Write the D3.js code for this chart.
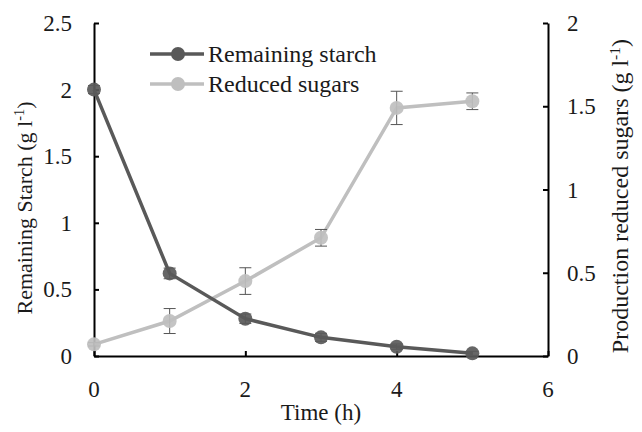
<!DOCTYPE html>
<html>
<head>
<meta charset="utf-8">
<script src="https://cdn.jsdelivr.net/npm/d3@7"></script>
<style>
body { margin: 0; background: #fff; }
text { font-family: "Liberation Serif", "Times New Roman", serif; fill: #1a1a1a; }
</style>
</head>
<body>
<div id="chart"></div>
<script>
// data
var time = [0, 1, 2, 3, 4, 5];
var starch = [2.0, 0.62, 0.28, 0.14, 0.07, 0.02];
var starchErr = [0.03, 0.04, 0.035, 0.03, 0.02, 0.015];
var sugars = [0.07, 0.21, 0.45, 0.71, 1.49, 1.53];
var sugarsErr = [0.01, 0.075, 0.08, 0.05, 0.1, 0.05];
var xTicks = [0, 2, 4, 6];
var leftTicks = [0, 0.5, 1, 1.5, 2, 2.5];
var rightTicks = [0, 0.5, 1, 1.5, 2];
var seriesNames = ["Remaining starch", "Reduced sugars"];

var W = 642, H = 432;
var mLeft = 94, mRight = 548, mTop = 23, mBottom = 356;

var x = d3.scaleLinear().domain([0, 6]).range([mLeft, mRight]);
var yL = d3.scaleLinear().domain([0, 2.5]).range([mBottom, mTop]);
var yR = d3.scaleLinear().domain([0, 2]).range([mBottom, mTop]);

var svg = d3.select("#chart").append("svg")
	.attr("width", W)
	.attr("height", H);

function fmt(d) { return String(d); }

// axes, ticks inward
var gx = svg.append("g").attr("transform", "translate(0," + mBottom + ")")
	.call(d3.axisTop(x).tickValues(xTicks).tickSize(5).tickSizeOuter(0).tickFormat(""));
var gl = svg.append("g").attr("transform", "translate(" + mLeft + ",0)")
	.call(d3.axisRight(yL).tickValues(leftTicks).tickSize(5).tickSizeOuter(0).tickFormat(""));
var gr = svg.append("g").attr("transform", "translate(" + mRight + ",0)")
	.call(d3.axisLeft(yR).tickValues(rightTicks).tickSize(5).tickSizeOuter(0).tickFormat(""));
[gx, gl, gr].forEach(function(g) {
	g.select(".domain").attr("stroke", "#000").attr("stroke-width", 2);
	g.selectAll(".tick line").attr("stroke", "#000").attr("stroke-width", 2);
});

// tick labels
svg.selectAll(".xl").data(xTicks).enter().append("text")
	.attr("x", function(d) { return x(d); })
	.attr("y", 397)
	.attr("text-anchor", "middle")
	.attr("font-size", 23)
	.text(fmt);
svg.selectAll(".yl").data(leftTicks).enter().append("text")
	.attr("x", 72)
	.attr("y", function(d) { return yL(d) + 8; })
	.attr("text-anchor", "end")
	.attr("font-size", 23)
	.text(fmt);
svg.selectAll(".yr").data(rightTicks).enter().append("text")
	.attr("x", 567)
	.attr("y", function(d) { return yR(d) + 8; })
	.attr("text-anchor", "start")
	.attr("font-size", 23)
	.text(fmt);

// axis titles
svg.append("text")
	.attr("x", 321).attr("y", 420)
	.attr("text-anchor", "middle")
	.attr("font-size", 23)
	.text("Time (h)");

function yTitle(bx, cy, size, label) {
	var t = svg.append("text")
		.attr("transform", "translate(" + bx + "," + cy + ") rotate(-90)")
		.attr("text-anchor", "middle")
		.attr("font-size", size);
	t.append("tspan").text(label + " (g l");
	t.append("tspan").attr("dy", -size * 0.35).attr("font-size", size * 0.65).text("-1");
	t.append("tspan").attr("dy", size * 0.35).text(")");
}
yTitle(32, 208, 22, "Remaining Starch");
yTitle(628, 196, 24, "Production reduced sugars");

var series = [
	{ name: seriesNames[0], vals: starch, err: starchErr, y: yL, color: "#595959" },
	{ name: seriesNames[1], vals: sugars, err: sugarsErr, y: yR, color: "#bfbfbf" }
];

// draw sugars first, starch on top
[series[1], series[0]].forEach(function(s) {
	var pts = time.map(function(t, i) { return { t: t, v: s.vals[i], e: s.err[i] }; });
	var line = d3.line().x(function(d) { return x(d.t); }).y(function(d) { return s.y(d.v); });
	svg.append("path").datum(pts)
		.attr("d", line)
		.attr("fill", "none")
		.attr("stroke", s.color)
		.attr("stroke-width", 3.5);

	var eb = svg.append("g");
	pts.forEach(function(d) {
		var y1 = s.y(d.v - d.e), y2 = s.y(d.v + d.e), cx = x(d.t);
		eb.append("line").attr("x1", cx).attr("x2", cx).attr("y1", y1).attr("y2", y2)
			.attr("stroke", "#555").attr("stroke-width", 1);
		eb.append("line").attr("x1", cx - 6).attr("x2", cx + 6).attr("y1", y1).attr("y2", y1)
			.attr("stroke", "#555").attr("stroke-width", 1);
		eb.append("line").attr("x1", cx - 6).attr("x2", cx + 6).attr("y1", y2).attr("y2", y2)
			.attr("stroke", "#555").attr("stroke-width", 1);
	});

	svg.selectAll(null).data(pts).enter().append("circle")
		.attr("cx", function(d) { return x(d.t); })
		.attr("cy", function(d) { return s.y(d.v); })
		.attr("r", 7)
		.attr("fill", s.color)
		.attr("fill-opacity", 0.92);
});

// legend
var lg = svg.append("g");
series.forEach(function(s, i) {
	var ly = 54 + i * 30;
	lg.append("line").attr("x1", 150).attr("x2", 204).attr("y1", ly).attr("y2", ly)
		.attr("stroke", s.color).attr("stroke-width", 3.5);
	lg.append("circle").attr("cx", 178).attr("cy", ly).attr("r", 7).attr("fill", s.color);
	lg.append("text").attr("x", 208).attr("y", ly + 8)
		.attr("font-size", 24)
		.text(s.name);
});
</script>
</body>
</html>
